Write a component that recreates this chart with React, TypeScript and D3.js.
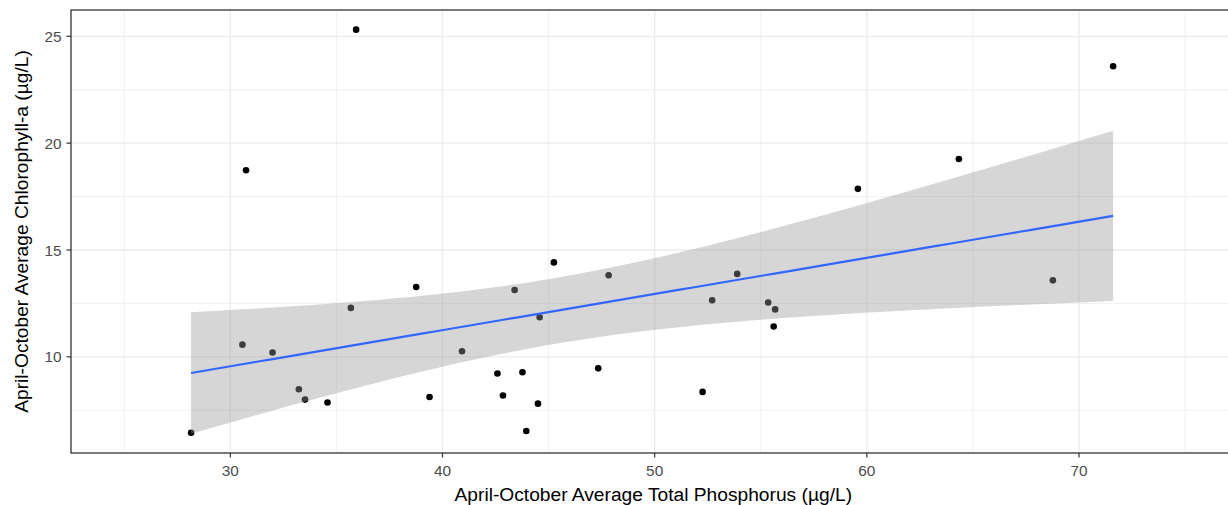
import React from 'react';
import * as d3 from 'd3';

const phosphorus = [28.15, 30.57, 30.74, 31.99, 33.23, 33.52, 34.58, 35.68, 35.93, 38.76, 39.39, 40.92, 42.59, 42.85, 43.40, 43.77, 43.95, 44.50, 44.58, 45.25, 47.34, 47.83, 52.26, 52.71, 53.89, 55.35, 55.68, 55.61, 59.58, 64.34, 68.77, 71.61];
const chlorophyll = [6.45, 10.57, 18.73, 10.20, 8.48, 8.00, 7.86, 12.29, 25.31, 13.27, 8.12, 10.26, 9.22, 8.19, 13.13, 9.28, 6.53, 7.81, 11.85, 14.42, 9.46, 13.82, 8.36, 12.65, 13.88, 12.54, 12.22, 11.42, 17.86, 19.26, 13.58, 23.60];

const xTicks = [30, 40, 50, 60, 70];
const xMinor = [25, 35, 45, 55, 65, 75];
const yTicks = [10, 15, 20, 25];
const yMinor = [7.5, 12.5, 17.5, 22.5];

const xTitle = 'April-October Average Total Phosphorus (µg/L)';
const yTitle = 'April-October Average Chlorophyll-a (µg/L)';

const T_CRIT = 2.042; // t(0.975, df = 30)

export default function App() {
  const W = 1228, H = 505;
  const left = 71, top = 10, bottom = 453, right = 1229.6;
  const x = d3.scaleLinear().domain([22.49, 77.1]).range([left, right]);
  const y = d3.scaleLinear().domain([5.5, 26.23]).range([bottom, top]);

  // linear model fit (like geom_smooth(method = "lm"))
  const n = phosphorus.length;
  const mx = d3.mean(phosphorus) as number;
  const my = d3.mean(chlorophyll) as number;
  let sxx = 0, sxy = 0;
  for (let i = 0; i < n; i++) {
    sxx += (phosphorus[i] - mx) ** 2;
    sxy += (phosphorus[i] - mx) * (chlorophyll[i] - my);
  }
  const b = sxy / sxx;
  const a = my - b * mx;
  let sse = 0;
  for (let i = 0; i < n; i++) sse += (chlorophyll[i] - a - b * phosphorus[i]) ** 2;
  const s = Math.sqrt(sse / (n - 2));
  const [xmin, xmax] = d3.extent(phosphorus) as [number, number];
  const grid = d3.range(80).map(i => xmin + (i * (xmax - xmin)) / 79);
  const fit = grid.map(gx => {
    const fy = a + b * gx;
    const se = s * Math.sqrt(1 / n + (gx - mx) ** 2 / sxx);
    return { x: gx, y: fy, lo: fy - T_CRIT * se, hi: fy + T_CRIT * se };
  });

  const area = d3.area<any>().x(d => x(d.x)).y0(d => y(d.lo)).y1(d => y(d.hi));
  const line = d3.line<any>().x(d => x(d.x)).y(d => y(d.y));

  const font = '"Liberation Sans", Arial, sans-serif';

  return (
    <svg width={W} height={H} style={{ position: 'absolute', left: 0, top: 0 }} fontFamily={font}>
      <rect x={0} y={0} width={W} height={H} fill="#fff" />
      <defs>
        <clipPath id="panel">
          <rect x={left} y={top} width={right - left} height={bottom - top} />
        </clipPath>
      </defs>
      <g clipPath="url(#panel)">
        {xMinor.map(v => (
          <line key={'xm' + v} x1={x(v)} x2={x(v)} y1={top} y2={bottom} stroke="#F0F0F0" strokeWidth={1} />
        ))}
        {yMinor.map(v => (
          <line key={'ym' + v} x1={left} x2={right} y1={y(v)} y2={y(v)} stroke="#F0F0F0" strokeWidth={1} />
        ))}
        {xTicks.map(v => (
          <line key={'xg' + v} x1={x(v)} x2={x(v)} y1={top} y2={bottom} stroke="#EBEBEB" strokeWidth={1.3} />
        ))}
        {yTicks.map(v => (
          <line key={'yg' + v} x1={left} x2={right} y1={y(v)} y2={y(v)} stroke="#EBEBEB" strokeWidth={1.3} />
        ))}
        {phosphorus.map((v, i) => (
          <circle key={'p' + i} cx={x(v)} cy={y(chlorophyll[i])} r={3.3} fill="#000" />
        ))}
        <path d={area(fit) as string} fill="#999999" fillOpacity={0.4} />
        <path d={line(fit) as string} fill="none" stroke="#3366FF" strokeWidth={2.2} />
      </g>
      <rect x={left} y={top} width={right - left} height={bottom - top} fill="none" stroke="#333333" strokeWidth={1.3} />
      {xTicks.map(v => (
        <g key={'xt' + v}>
          <line x1={x(v)} x2={x(v)} y1={bottom} y2={bottom + 4.5} stroke="#333333" strokeWidth={1.2} />
          <text x={x(v)} y={476} textAnchor="middle" fontSize={15.4} fill="#4D4D4D">{v}</text>
        </g>
      ))}
      {yTicks.map(v => (
        <g key={'yt' + v}>
          <line x1={left - 4.5} x2={left} y1={y(v)} y2={y(v)} stroke="#333333" strokeWidth={1.2} />
          <text x={61.5} y={y(v)} dy="0.36em" textAnchor="end" fontSize={15.4} fill="#4D4D4D">{v}</text>
        </g>
      ))}
      <text x={(left + right) / 2 + 3} y={500.5} textAnchor="middle" fontSize={19.2} fill="#000">{xTitle}</text>
      <text transform={`translate(27.5, ${(top + bottom) / 2}) rotate(-90)`} textAnchor="middle" fontSize={19.2} fill="#000">{yTitle}</text>
    </svg>
  );
}
